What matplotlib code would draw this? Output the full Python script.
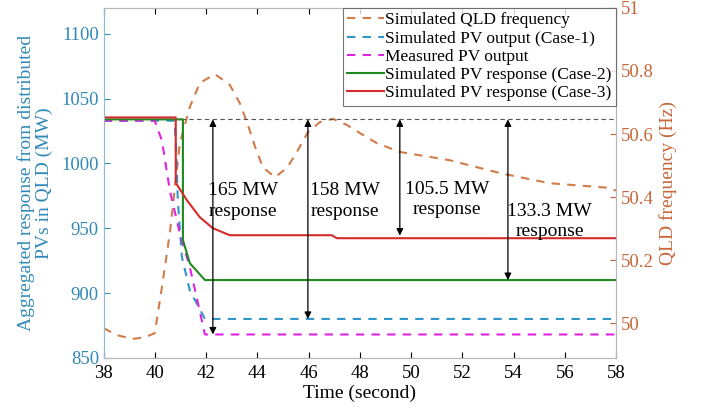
import numpy as np
import matplotlib
matplotlib.use('Agg')
import matplotlib.pyplot as plt

plt.rcParams['font.family'] = ['Liberation Serif', 'DejaVu Serif']
plt.rcParams['mathtext.fontset'] = 'stix'

# simulated QLD frequency (Hz)
freq_t = [38.0, 38.5, 39.13, 39.6, 39.99, 40.27, 40.58, 40.97, 41.36, 41.75, 42.34, 42.92,
          43.31, 43.59, 43.91, 44.21, 44.68, 45.15, 45.54, 45.97, 46.44, 46.95, 47.49, 48.0,
          48.66, 49.56, 51.5, 53.47, 55.4, 57.77, 58.0]
freq_hz = [49.984, 49.962, 49.95, 49.955, 49.968, 50.114, 50.286, 50.571, 50.686, 50.762, 50.79,
           50.756, 50.698, 50.638, 50.559, 50.495, 50.463, 50.492, 50.543, 50.606, 50.638, 50.648,
           50.629, 50.603, 50.571, 50.543, 50.517, 50.476, 50.444, 50.429, 50.42]

# simulated PV output (Case-1)
case1_t = [38.0, 40.77, 40.85, 40.89, 41.05, 41.36, 41.95, 58.0]
case1_mw = [1033, 1033, 997, 971.5, 927.7, 902, 880, 880]

# measured PV output
meas_t = [38.0, 39.99, 40.27, 40.58, 40.97, 41.36, 41.95, 58.0]
meas_mw = [1033, 1033, 1017.7, 979, 946, 920, 868, 868]

# simulated PV response (Case-2)
case2_t = [38.0, 41.09, 41.09, 41.36, 41.95, 58.0]
case2_mw = [1034, 1034, 941, 923, 910, 910]

# simulated PV response (Case-3)
case3_t = [38.0, 40.81, 40.81, 41.25, 41.75, 42.26, 42.92, 46.9, 47.1, 58.0]
case3_mw = [1035.5, 1035.5, 985, 971.5, 958.5, 950, 944.6, 944.6, 942.3, 942.3]

baseline = 1034
arrow_t = [42.26, 45.97, 49.56, 53.78]
arrow_end = [868, 880, 944.3, 910]
label_t = [43.45, 47.4, 51.4, 55.4]
label_mw = [971, 971, 972, 955]
labels = ['165 MW\nresponse', '158 MW\nresponse', '105.5 MW\nresponse', '133.3 MW\nresponse']

c_left = '#3189b8'
c_right = '#c8663a'

fig = plt.figure(figsize=(7.06, 4.18), dpi=100)
ax = fig.add_axes([0.147, 0.144, 0.7255, 0.837])
ax2 = ax.twinx()

l_freq, = ax2.plot(freq_t, freq_hz, '--', color='#d27b4b', lw=1.5, dashes=(4, 3.5))
ax2.set_ylim(49.89, 51.0)
ax2.set_yticks([50, 50.2, 50.4, 50.6, 50.8, 51])
ax2.set_yticklabels(['50', '50.2', '50.4', '50.6', '50.8', '51'])
ax2.set_ylabel('QLD frequency (Hz)', color=c_right, fontsize=14)
ax2.tick_params(axis='y', colors=c_right, direction='in', labelsize=13.5, length=4)

ax.set_zorder(ax2.get_zorder() + 1)
ax.patch.set_visible(False)

ax.plot([41.0, 58], [baseline, baseline], '--', color='#555555', lw=0.8, dashes=(4, 3))
l1, = ax.plot(case1_t, case1_mw, '--', color='#2f95c9', lw=1.5, dashes=(4, 3.5))
l2, = ax.plot(meas_t, meas_mw, '--', color='#e022e0', lw=1.5, dashes=(4, 3.5))
l3, = ax.plot(case2_t, case2_mw, '-', color='#1f8a1f', lw=1.5)
l4, = ax.plot(case3_t, case3_mw, '-', color='#d42a2a', lw=1.5)

for t, e in zip(arrow_t, arrow_end):
    ax.annotate('', xy=(t, e), xytext=(t, baseline),
                arrowprops=dict(arrowstyle='<|-|>', color='black', lw=0.9,
                                mutation_scale=10, shrinkA=0, shrinkB=0))
for t, m, s in zip(label_t, label_mw, labels):
    ax.text(t, m, s, ha='center', va='center', fontsize=14, linespacing=1.25)

ax.set_xlim(38, 58)
ax.set_ylim(850, 1120)
ax.set_xticks(range(38, 59, 2))
ax.set_yticks(range(850, 1101, 50))
ax.set_xlabel('Time (second)', fontsize=14, labelpad=2)
ax.set_ylabel('Aggregated response from distributed\nPVs in QLD (MW)', color=c_left,
              fontsize=14, linespacing=1.05, labelpad=6)
ax.tick_params(axis='y', colors=c_left, direction='in', labelsize=13.5, length=4)
ax.tick_params(axis='x', direction='in', labelsize=13.5, length=4, top=True, pad=5)

for sp in ['top', 'bottom', 'left', 'right']:
    ax.spines[sp].set_color('#b8b8b8')
    ax2.spines[sp].set_color('#b8b8b8')
ax.spines['left'].set_color('#8fbcd0')

leg = ax.legend([l_freq, l1, l2, l3, l4],
                ['Simulated QLD frequency', 'Simulated PV output (Case-1)', 'Measured PV output',
                 'Simulated PV response (Case-2)', 'Simulated PV response (Case-3)'],
                loc='upper right', fontsize=12.5, frameon=True, fancybox=False,
                borderaxespad=0.0, handlelength=2.1, handletextpad=0.1,
                labelspacing=0.12, borderpad=0.25)
leg.get_frame().set_edgecolor('#555555')
leg.get_frame().set_linewidth(0.8)

fig.savefig('out.png', dpi=100)
